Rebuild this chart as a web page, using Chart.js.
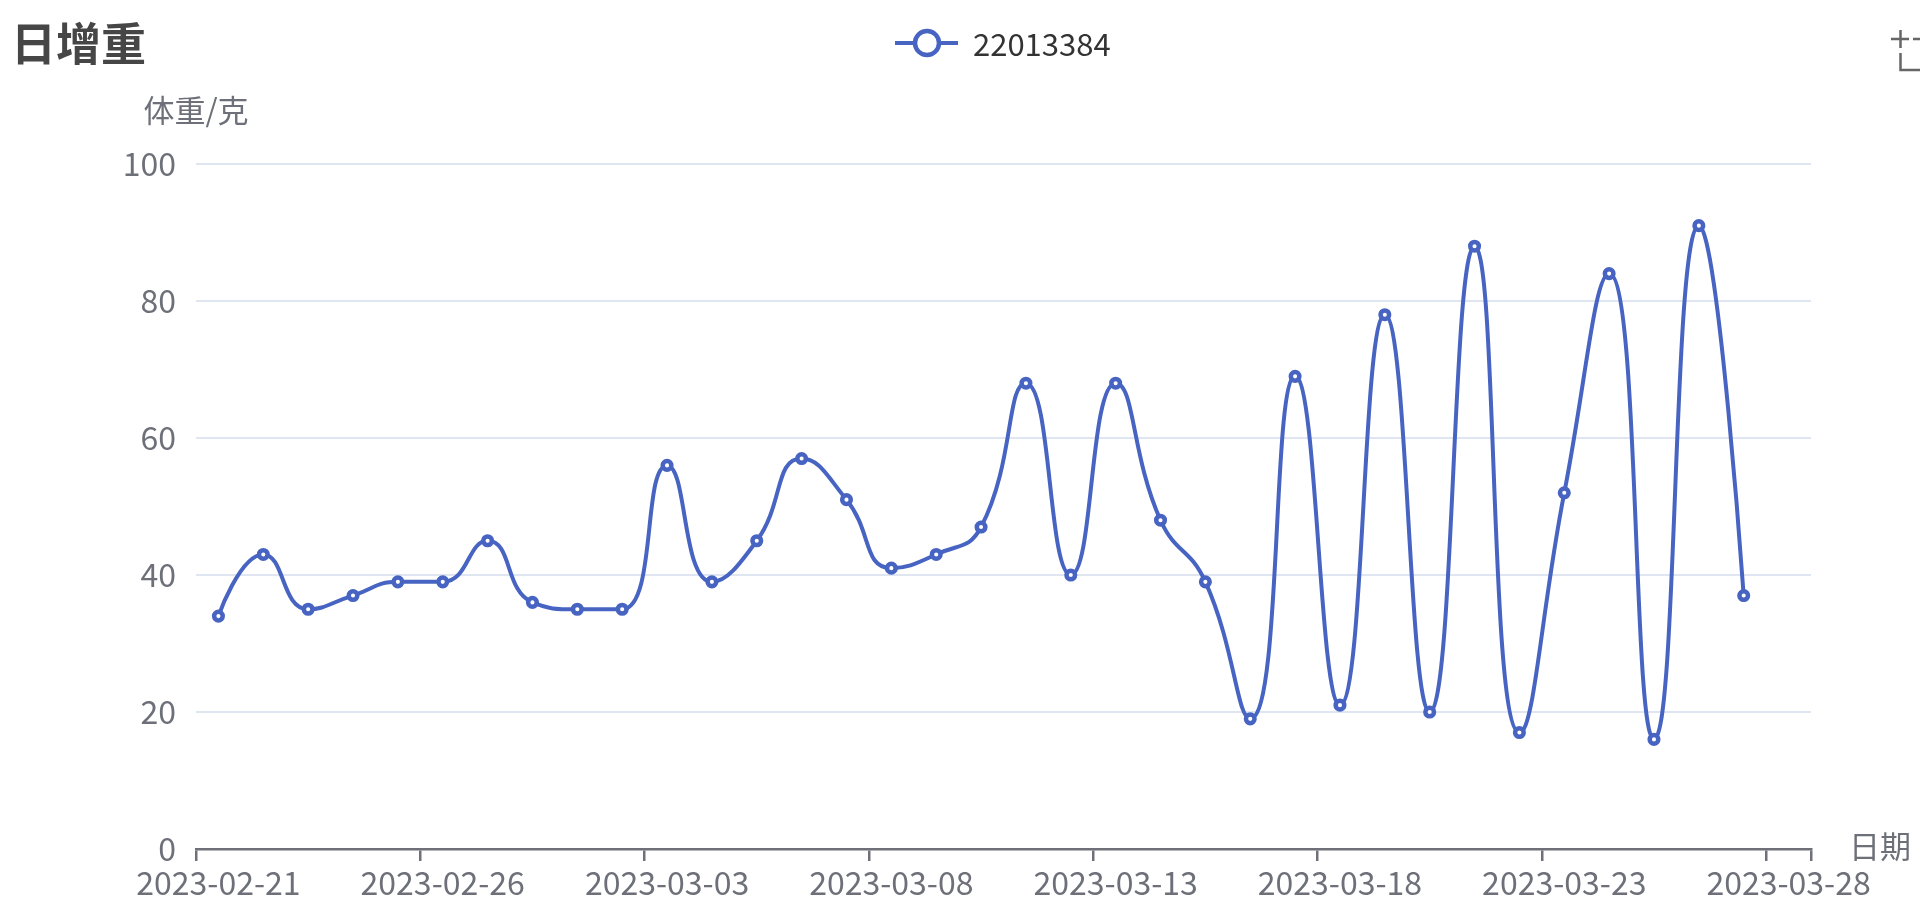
<!DOCTYPE html>
<html>
<head>
<meta charset="utf-8">
<script src="https://cdn.jsdelivr.net/npm/chart.js@4/dist/chart.umd.min.js"></script>
<style>
  html, body { margin: 0; padding: 0; background: #fff; }
  #wrap { width: 1920px; height: 910px; }
</style>
</head>
<body>
<div id="wrap"><canvas id="myChart" width="1920" height="910"></canvas></div>
<script>
// 日增重 data: one category per day, the last day has no value yet
const seriesName = '22013384';
const dates = [
  '2023-02-21', '2023-02-22', '2023-02-23', '2023-02-24', '2023-02-25', '2023-02-26', '2023-02-27', '2023-02-28',
  '2023-03-01', '2023-03-02', '2023-03-03', '2023-03-04', '2023-03-05', '2023-03-06', '2023-03-07', '2023-03-08',
  '2023-03-09', '2023-03-10', '2023-03-11', '2023-03-12', '2023-03-13', '2023-03-14', '2023-03-15', '2023-03-16',
  '2023-03-17', '2023-03-18', '2023-03-19', '2023-03-20', '2023-03-21', '2023-03-22', '2023-03-23', '2023-03-24',
  '2023-03-25', '2023-03-26', '2023-03-27', '2023-03-28'
];
const gains = [
  34, 43, 35, 37, 39, 39, 45, 36, 35, 35,
  56, 39, 45, 57, 51, 41, 43, 47, 68, 40,
  68, 48, 39, 19, 69, 21, 78, 20, 88, 17,
  52, 84, 16, 91, 37
];
const labelEvery = 5;
const yMin = 0, yMax = 100, yStep = 20;

const BLUE = '#4764c2';
const AXIS_GREY = '#6E7079';
const FONT = "'Noto Sans CJK SC', 'Noto Sans', sans-serif";
const SMOOTH = 0.5;

// echarts-like smoothing: control points are clamped between neighbours,
// so flat runs stay flat and peaks don't overshoot
const echartsSmooth = {
  id: 'echartsSmooth',
  beforeDatasetDraw(chart, args) {
    const line = args.meta.dataset;
    const pts = args.meta.data;
    if (!line || pts.length < 2) return;
    line.updateControlPoints(chart.chartArea, 'x');
    const n = pts.length;
    pts[0].cp2x = pts[0].x; pts[0].cp2y = pts[0].y;
    pts[0].cp1x = pts[0].x; pts[0].cp1y = pts[0].y;
    for (let i = 1; i < n; i++) {
      const p = pts[i], prev = pts[i - 1];
      const x = p.x, y = p.y;
      if (i === n - 1) {
        p.cp1x = x; p.cp1y = y; p.cp2x = x; p.cp2y = y;
        continue;
      }
      const next = pts[i + 1];
      let vx = next.x - prev.x, vy = next.y - prev.y;
      const lenPrev = Math.hypot(x - prev.x, y - prev.y);
      const lenNext = Math.hypot(next.x - x, next.y - y);
      const ratio = lenNext / (lenNext + lenPrev);
      let ncx = x + vx * SMOOTH * ratio;
      let ncy = y + vy * SMOOTH * ratio;
      ncx = Math.max(Math.min(ncx, Math.max(next.x, x)), Math.min(next.x, x));
      ncy = Math.max(Math.min(ncy, Math.max(next.y, y)), Math.min(next.y, y));
      vx = ncx - x; vy = ncy - y;
      let cx = x - vx * lenPrev / lenNext;
      let cy = y - vy * lenPrev / lenNext;
      cx = Math.max(Math.min(cx, Math.max(prev.x, x)), Math.min(prev.x, x));
      cy = Math.max(Math.min(cy, Math.max(prev.y, y)), Math.min(prev.y, y));
      vx = x - cx; vy = y - cy;
      p.cp1x = cx; p.cp1y = cy;
      p.cp2x = x + vx * lenNext / lenPrev;
      p.cp2y = y + vy * lenNext / lenPrev;
    }
  }
};

// title, legend, axis names and the toolbox glyph
const decorations = {
  id: 'decorations',
  afterDraw(chart) {
    const ctx = chart.ctx;
    const area = chart.chartArea;
    ctx.save();
    ctx.textBaseline = 'middle';

    ctx.fillStyle = '#464646';
    ctx.textAlign = 'left';
    ctx.font = 'bold 45px ' + FONT;
    ctx.fillText('日增重', 11, 44);

    // legend
    ctx.strokeStyle = BLUE;
    ctx.lineWidth = 4;
    ctx.beginPath();
    ctx.moveTo(895, 43);
    ctx.lineTo(958, 43);
    ctx.stroke();
    ctx.beginPath();
    ctx.arc(927, 43, 12, 0, Math.PI * 2);
    ctx.fillStyle = '#fff';
    ctx.fill();
    ctx.lineWidth = 4.5;
    ctx.stroke();
    ctx.fillStyle = '#333';
    ctx.font = '31px ' + FONT;
    ctx.fillText(chart.data.datasets[0].label, 973, 44);

    // axis names
    ctx.fillStyle = AXIS_GREY;
    ctx.font = '31px ' + FONT;
    ctx.textAlign = 'center';
    ctx.fillText('体重/克', area.left, 110);
    ctx.textAlign = 'left';
    ctx.fillText('日期', area.right + 38, area.bottom - 3);

    // toolbox icon (cut at the edge)
    ctx.strokeStyle = '#666';
    ctx.lineWidth = 2.5;
    ctx.beginPath();
    ctx.moveTo(1891, 39); ctx.lineTo(1909, 39);
    ctx.moveTo(1900.5, 30); ctx.lineTo(1900.5, 48);
    ctx.moveTo(1913, 39); ctx.lineTo(1920, 39);
    ctx.moveTo(1900.5, 53); ctx.lineTo(1900.5, 70);
    ctx.lineTo(1920, 70);
    ctx.stroke();
    ctx.restore();
  }
};

const ctx = document.getElementById('myChart').getContext('2d');
const chart = new Chart(ctx, {
  type: 'line',
  data: {
    labels: dates,
    datasets: [{
      label: seriesName,
      data: gains,
      borderColor: BLUE,
      borderWidth: 4,
      tension: 0.5,
      pointRadius: 4.3,
      pointBorderWidth: 4.5,
      pointBackgroundColor: '#fff',
      pointBorderColor: BLUE,
      fill: false
    }]
  },
  options: {
    responsive: false,
    animation: false,
    layout: { padding: { top: 164, right: 109, left: 0, bottom: 0 } },
    plugins: {
      legend: { display: false },
      title: { display: false },
      tooltip: { enabled: false }
    },
    scales: {
      x: {
        type: 'category',
        offset: true,
        afterFit(scale) { scale.height = 61; },
        border: { display: true, color: AXIS_GREY, width: 2.5 },
        grid: {
          offset: true,
          drawOnChartArea: false,
          drawTicks: true,
          tickLength: 12,
          lineWidth: 2.5,
          color: (c) => (c.index === undefined || c.index % labelEvery === 0) ? AXIS_GREY : 'rgba(0,0,0,0)'
        },
        ticks: {
          autoSkip: false,
          maxRotation: 0,
          minRotation: 0,
          padding: 3,
          color: AXIS_GREY,
          font: { family: FONT, size: 32 },
          callback: (v, i) => (i % labelEvery === 0 ? dates[i] : '')
        }
      },
      y: {
        min: yMin,
        max: yMax,
        afterFit(scale) { scale.width = 196; },
        border: { display: false },
        grid: { color: '#E0E6F1', lineWidth: 2, drawTicks: false },
        ticks: {
          stepSize: yStep,
          padding: 20,
          color: AXIS_GREY,
          font: { family: FONT, size: 32 }
        }
      }
    }
  },
  plugins: [echartsSmooth, decorations]
});
</script>
</body>
</html>
